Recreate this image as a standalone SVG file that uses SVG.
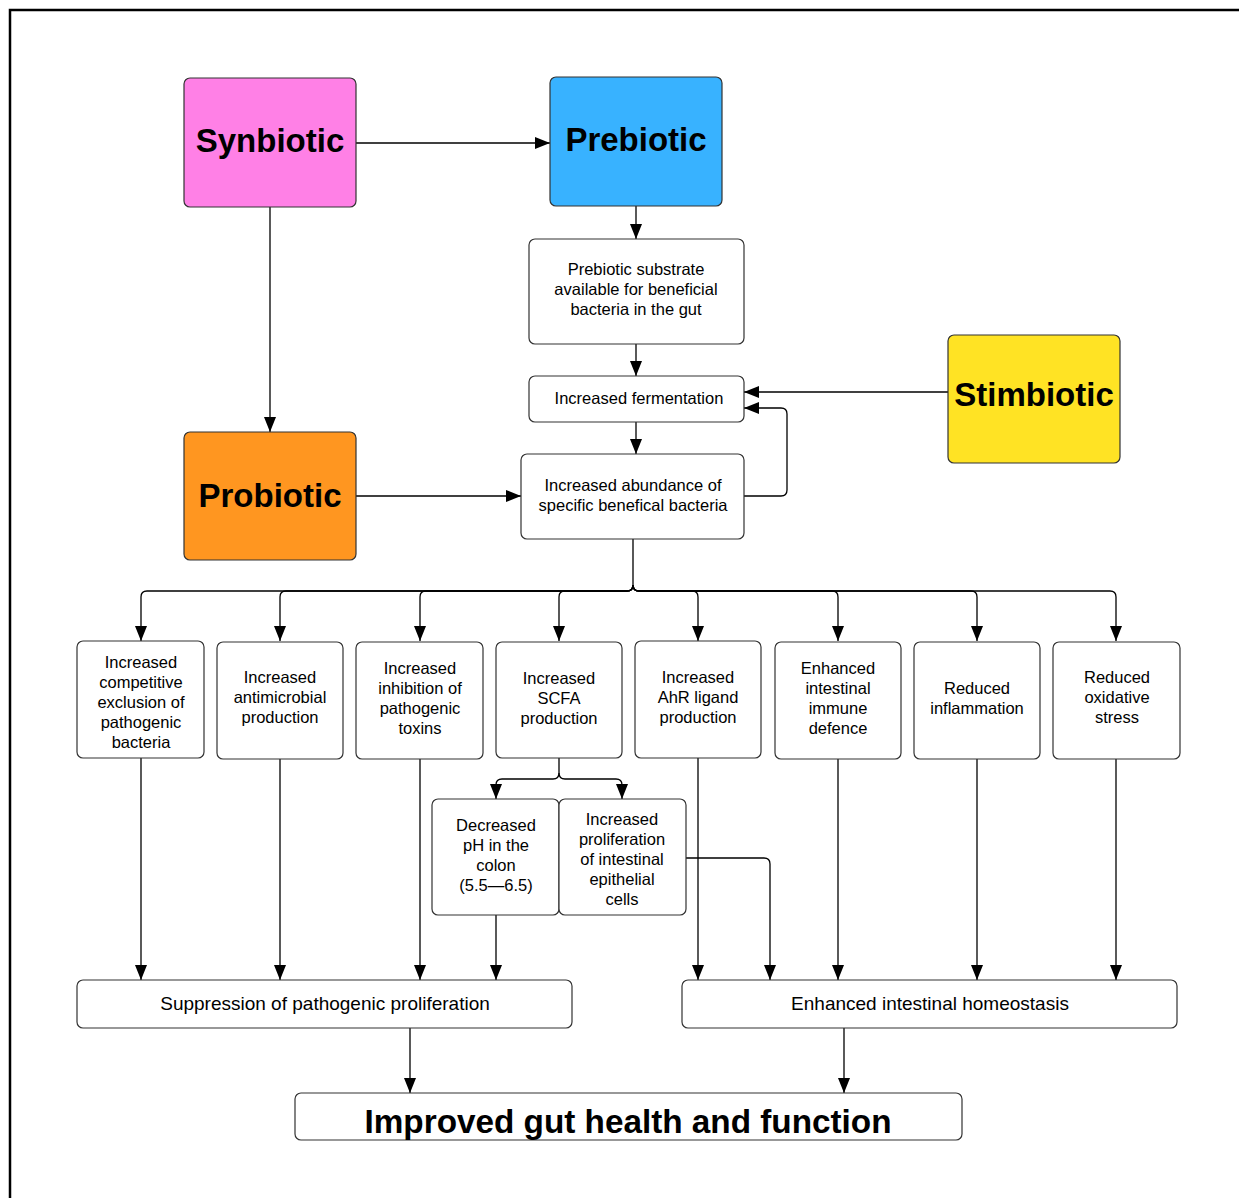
<svg xmlns="http://www.w3.org/2000/svg" width="1239" height="1198" viewBox="0 0 1239 1198">
<style>
.box{fill:#fff;stroke:#333;stroke-width:1.2}
.t{font-family:"Liberation Sans",Arial,sans-serif;font-size:16.5px;fill:#000;text-anchor:middle}
.m{font-size:19px}
.big{font-family:"Liberation Sans",Arial,sans-serif;font-size:33px;font-weight:bold;fill:#000;text-anchor:middle}
.c{fill:none;stroke:#000;stroke-width:1.3}
</style>
<defs>
<marker id="av" markerUnits="userSpaceOnUse" markerWidth="16" markerHeight="12" viewBox="0 0 16 12" refX="15" refY="6" orient="auto">
<path d="M0,0 L15,6 L0,12 Z" fill="#000"/>
</marker>
</defs>
<rect width="1239" height="1198" fill="#fff"/>
<path d="M10,1198 V10 H1239" fill="none" stroke="#000" stroke-width="2.5"/>

<g id="connectors">
<path class="c" d="M356,143 H550" marker-end="url(#av)"/>
<path class="c" d="M270,207 V432" marker-end="url(#av)"/>
<path class="c" d="M636,206 V239" marker-end="url(#av)"/>
<path class="c" d="M636,344 V376" marker-end="url(#av)"/>
<path class="c" d="M636,422 V454" marker-end="url(#av)"/>
<path class="c" d="M948,392 H744" marker-end="url(#av)"/>
<path class="c" d="M744,496 H781 Q787,496 787,490 V414 Q787,408 781,408 H744" marker-end="url(#av)"/>
<path class="c" d="M356,496 H521" marker-end="url(#av)"/>
<path class="c" d="M633,539 V585 Q633,591 627,591 H147 Q141,591 141,597 V641" marker-end="url(#av)"/>
<path class="c" d="M633,585 Q633,591 627,591 H286 Q280,591 280,597 V641" marker-end="url(#av)"/>
<path class="c" d="M633,585 Q633,591 627,591 H426 Q420,591 420,597 V641" marker-end="url(#av)"/>
<path class="c" d="M633,585 Q633,591 627,591 H565 Q559,591 559,597 V641" marker-end="url(#av)"/>
<path class="c" d="M633,585 Q633,591 639,591 H692 Q698,591 698,597 V641" marker-end="url(#av)"/>
<path class="c" d="M633,585 Q633,591 639,591 H832 Q838,591 838,597 V641" marker-end="url(#av)"/>
<path class="c" d="M633,585 Q633,591 639,591 H971 Q977,591 977,597 V641" marker-end="url(#av)"/>
<path class="c" d="M633,585 Q633,591 639,591 H1110 Q1116,591 1116,597 V641" marker-end="url(#av)"/>
<path class="c" d="M559,758 V773 Q559,779 553,779 H502 Q496,779 496,785 V799" marker-end="url(#av)"/>
<path class="c" d="M559,773 Q559,779 565,779 H616 Q622,779 622,785 V799" marker-end="url(#av)"/>
<path class="c" d="M141,758 V980" marker-end="url(#av)"/>
<path class="c" d="M280,758 V980" marker-end="url(#av)"/>
<path class="c" d="M420,758 V980" marker-end="url(#av)"/>
<path class="c" d="M496,915 V980" marker-end="url(#av)"/>
<path class="c" d="M698,758 V980" marker-end="url(#av)"/>
<path class="c" d="M686,858 H764 Q770,858 770,864 V980" marker-end="url(#av)"/>
<path class="c" d="M838,758 V980" marker-end="url(#av)"/>
<path class="c" d="M977,758 V980" marker-end="url(#av)"/>
<path class="c" d="M1116,758 V980" marker-end="url(#av)"/>
<path class="c" d="M410,1028 V1093" marker-end="url(#av)"/>
<path class="c" d="M844,1028 V1093" marker-end="url(#av)"/>
</g>

<g id="synbiotic"><rect x="184" y="78" width="172" height="129" rx="6" fill="#ff80e6" stroke="#333" stroke-width="1.2"/><text class="big" x="270" y="152">Synbiotic</text></g>
<g id="prebiotic"><rect x="550" y="77" width="172" height="129" rx="6" fill="#38b2ff" stroke="#333" stroke-width="1.2"/><text class="big" x="636" y="151">Prebiotic</text></g>
<g id="stimbiotic"><rect x="948" y="335" width="172" height="128" rx="6" fill="#ffe324" stroke="#333" stroke-width="1.2"/><text class="big" x="1034" y="406">Stimbiotic</text></g>
<g id="probiotic"><rect x="184" y="432" width="172" height="128" rx="6" fill="#ff9620" stroke="#333" stroke-width="1.2"/><text class="big" x="270" y="507">Probiotic</text></g>

<g id="substrate"><rect class="box" x="529" y="239" width="215" height="105" rx="6"/><text class="t" x="636"><tspan x="636" y="275">Prebiotic substrate</tspan><tspan x="636" y="295">available for beneficial</tspan><tspan x="636" y="315">bacteria in the gut</tspan></text></g>
<g id="fermentation"><rect class="box" x="529" y="376" width="215" height="46" rx="6"/><text class="t" x="639" y="404">Increased fermentation</text></g>
<g id="abundance"><rect class="box" x="521" y="454" width="223" height="85" rx="6"/><text class="t"><tspan x="633" y="491">Increased abundance of</tspan><tspan x="633" y="511">specific benefical bacteria</tspan></text></g>

<g id="competitive"><rect class="box" x="77" y="641" width="127" height="117" rx="6"/><text class="t"><tspan x="141" y="668">Increased</tspan><tspan x="141" y="688">competitive</tspan><tspan x="141" y="708">exclusion of</tspan><tspan x="141" y="728">pathogenic</tspan><tspan x="141" y="748">bacteria</tspan></text></g>
<g id="antimicrobial"><rect class="box" x="217" y="642" width="126" height="117" rx="6"/><text class="t"><tspan x="280" y="683">Increased</tspan><tspan x="280" y="703">antimicrobial</tspan><tspan x="280" y="723">production</tspan></text></g>
<g id="toxins"><rect class="box" x="356" y="642" width="127" height="117" rx="6"/><text class="t"><tspan x="420" y="674">Increased</tspan><tspan x="420" y="694">inhibition of</tspan><tspan x="420" y="714">pathogenic</tspan><tspan x="420" y="734">toxins</tspan></text></g>
<g id="scfa"><rect class="box" x="496" y="642" width="126" height="116" rx="6"/><text class="t"><tspan x="559" y="684">Increased</tspan><tspan x="559" y="704">SCFA</tspan><tspan x="559" y="724">production</tspan></text></g>
<g id="ahr"><rect class="box" x="635" y="641" width="126" height="117" rx="6"/><text class="t"><tspan x="698" y="683">Increased</tspan><tspan x="698" y="703">AhR ligand</tspan><tspan x="698" y="723">production</tspan></text></g>
<g id="immune"><rect class="box" x="775" y="642" width="126" height="117" rx="6"/><text class="t"><tspan x="838" y="674">Enhanced</tspan><tspan x="838" y="694">intestinal</tspan><tspan x="838" y="714">immune</tspan><tspan x="838" y="734">defence</tspan></text></g>
<g id="inflammation"><rect class="box" x="914" y="642" width="126" height="117" rx="6"/><text class="t"><tspan x="977" y="694">Reduced</tspan><tspan x="977" y="714">inflammation</tspan></text></g>
<g id="oxidative"><rect class="box" x="1053" y="642" width="127" height="117" rx="6"/><text class="t"><tspan x="1117" y="683">Reduced</tspan><tspan x="1117" y="703">oxidative</tspan><tspan x="1117" y="723">stress</tspan></text></g>

<g id="ph"><rect class="box" x="432" y="799" width="127" height="116" rx="6"/><text class="t"><tspan x="496" y="831">Decreased</tspan><tspan x="496" y="851">pH in the</tspan><tspan x="496" y="871">colon</tspan><tspan x="496" y="891">(5.5—6.5)</tspan></text></g>
<g id="proliferation"><rect class="box" x="559" y="799" width="127" height="116" rx="6"/><text class="t"><tspan x="622" y="825">Increased</tspan><tspan x="622" y="845">proliferation</tspan><tspan x="622" y="865">of intestinal</tspan><tspan x="622" y="885">epithelial</tspan><tspan x="622" y="905">cells</tspan></text></g>

<g id="suppression"><rect class="box" x="77" y="980" width="495" height="48" rx="6"/><text class="t m" x="325" y="1010">Suppression of pathogenic proliferation</text></g>
<g id="homeostasis"><rect class="box" x="682" y="980" width="495" height="48" rx="6"/><text class="t m" x="930" y="1010">Enhanced intestinal homeostasis</text></g>
<g id="improved"><rect class="box" x="295" y="1093" width="667" height="47" rx="6"/><text class="big" x="628" y="1133" font-size="35" textLength="527" lengthAdjust="spacingAndGlyphs">Improved gut health and function</text></g>
</svg>
